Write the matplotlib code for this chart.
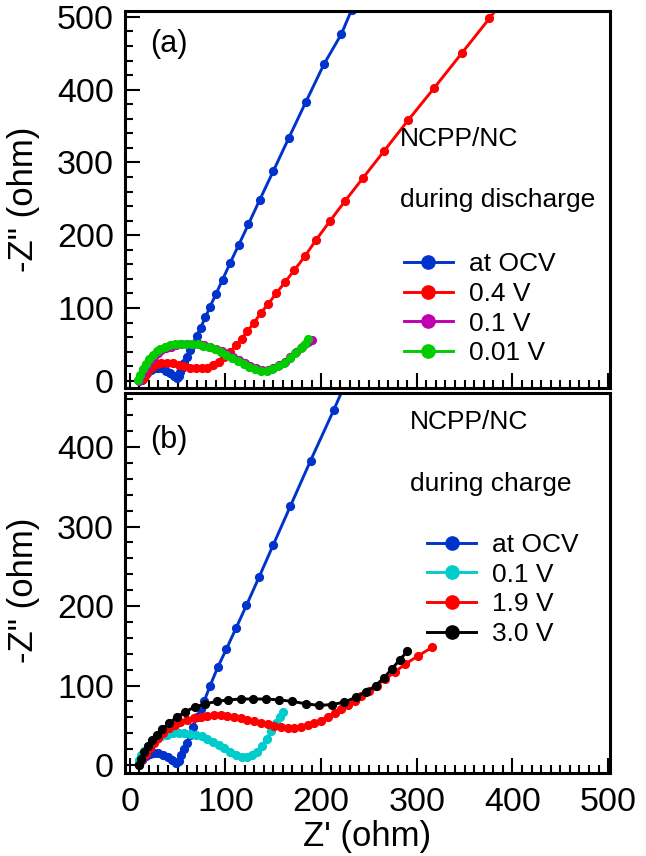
import numpy as np
import matplotlib
matplotlib.use("Agg")
import matplotlib.pyplot as plt
from matplotlib.ticker import MultipleLocator

plt.rcParams['font.family'] = ['Liberation Sans', 'DejaVu Sans']

# %% data, (Z', -Z'') in ohm
# (a) during discharge
a_ocv_x = [13, 15, 18, 22, 26, 30, 34, 38, 42, 46, 49, 51, 53, 55, 57, 60, 63, 66, 70, 74,
           79, 84, 90, 97, 105, 114, 124, 136, 150, 166, 184, 203, 221, 232]
a_ocv_y = [1, 6, 11, 15, 17, 18, 17, 14, 10, 6, 4, 7, 12, 18, 25, 33, 42, 51, 62, 73,
           87, 102, 119, 139, 162, 187, 215, 249, 288, 333, 383, 435, 476, 510]
a_04_x = [14, 16, 19, 23, 28, 33, 39, 45, 51, 57, 63, 69, 75, 81, 87, 93, 99, 105, 111, 117,
          123, 130, 137, 145, 153, 162, 172, 183, 195, 209, 225, 244, 266, 291, 318, 347, 376, 390]
a_04_y = [2, 7, 13, 19, 23, 25, 25, 24, 22, 20, 18, 17, 17, 18, 21, 26, 32, 40, 49, 58,
          68, 80, 93, 106, 120, 135, 152, 171, 194, 219, 247, 279, 316, 358, 402, 450, 498, 522]
a_01_x = [10, 12, 15, 18, 21, 25, 29, 33, 38, 43, 48, 54, 60, 66, 72, 78, 84, 90, 96, 102,
          108, 114, 120, 126, 132, 138, 144, 150, 156, 162, 168, 174, 180, 186, 190]
a_01_y = [0, 6, 13, 20, 27, 33, 38, 42, 45, 47, 49, 50, 51, 51, 50, 49, 47, 44, 41, 37,
          33, 28, 24, 20, 17, 15, 15, 17, 21, 26, 32, 39, 46, 53, 56]
a_001_x = [9, 11, 14, 17, 20, 24, 28, 32, 37, 42, 47, 53, 59, 65, 71, 77, 83, 89, 95, 101,
           107, 113, 119, 125, 131, 137, 143, 149, 155, 161, 167, 173, 179, 183, 186]
a_001_y = [1, 8, 16, 23, 30, 36, 41, 44, 47, 49, 50, 51, 51, 51, 50, 48, 46, 43, 39, 35,
           31, 27, 23, 19, 16, 14, 14, 16, 20, 25, 31, 38, 45, 51, 57]

# (b) during charge
b_ocv_x = [10, 13, 17, 21, 25, 30, 35, 40, 44, 48, 51, 54, 57, 60, 63, 66, 70, 74, 78, 84,
           92, 101, 111, 122, 135, 150, 168, 189, 213, 240]
b_ocv_y = [1, 6, 11, 14, 15, 15, 13, 10, 6, 3, 5, 12, 20, 28, 38, 48, 60, 71, 81, 100,
           123, 146, 172, 201, 236, 277, 326, 383, 446, 520]
b_01_x = [10, 12, 15, 19, 23, 28, 33, 39, 45, 51, 57, 63, 69, 75, 81, 87, 93, 99, 105, 111,
          117, 123, 128, 133, 138, 143, 148, 153, 157, 160]
b_01_y = [6, 12, 18, 24, 29, 33, 36, 38, 40, 40, 40, 39, 38, 36, 33, 29, 25, 21, 16, 12,
          10, 10, 12, 17, 24, 33, 43, 53, 61, 67]
b_19_x = [10, 13, 17, 21, 25, 30, 35, 41, 47, 53, 60, 67, 74, 81, 88, 95, 102, 109, 116, 123,
          130, 137, 144, 151, 158, 165, 172, 179, 186, 193, 200, 207, 214, 221, 228, 235,
          242, 250, 258, 267, 277, 288, 301, 316]
b_19_y = [0, 7, 14, 21, 28, 34, 40, 46, 50, 54, 57, 59, 61, 62, 63, 63, 62, 61, 59, 57,
          55, 53, 51, 49, 48, 47, 47, 48, 50, 53, 56, 61, 66, 71, 76, 81,
          87, 93, 100, 108, 117, 127, 137, 148]
b_30_x = [10, 12, 15, 19, 23, 28, 34, 41, 49, 58, 68, 79, 91, 103, 116, 129, 142, 156, 170, 184,
          198, 211, 224, 236, 247, 257, 266, 274, 282, 290]
b_30_y = [0, 8, 16, 24, 31, 38, 45, 53, 60, 67, 73, 77, 80, 82, 83, 83, 83, 82, 80, 77,
          75, 76, 79, 85, 92, 100, 110, 121, 132, 143]

labels_a = ['at OCV', '0.4 V', '0.1 V', '0.01 V']
labels_b = ['at OCV', '0.1 V', '1.9 V', '3.0 V']
blue, red, magenta, green, cyan = '#0033cc', '#ff0000', '#c000b0', '#00cc00', '#00cccc'


def style_axes(ax, ymax):
    ax.set_xlim(-5, 502)
    ax.set_ylim(-10, ymax)
    ax.xaxis.set_major_locator(MultipleLocator(100))
    ax.xaxis.set_minor_locator(MultipleLocator(10))
    ax.yaxis.set_major_locator(MultipleLocator(100))
    ax.yaxis.set_minor_locator(MultipleLocator(20))
    ax.tick_params(which='both', direction='in', top=False, right=False, width=1.5,
                   labelsize=24.5)
    ax.tick_params(which='major', length=11)
    ax.tick_params(which='minor', length=5.5)
    ax.tick_params(axis='x', pad=10)
    ax.tick_params(axis='y', pad=8)
    for s in ax.spines.values():
        s.set_linewidth(2.2)
    ax.set_ylabel('-Z" (ohm)', fontsize=25)
    ax.yaxis.set_label_coords(-0.175, 0.5)


def curva(ax, x, y, cor, rotulo):
    ax.plot(x, y, '-o', color=cor, lw=2.1, ms=5.6, mec=cor, label=rotulo)


fig = plt.figure(figsize=(6.46, 8.56), dpi=100)
ax1 = fig.add_axes([0.1935, 0.5467, 0.7508, 0.4404])
ax2 = fig.add_axes([0.1935, 0.0970, 0.7508, 0.4439])

# (a)
curva(ax1, a_ocv_x, a_ocv_y, blue, labels_a[0])
curva(ax1, a_04_x, a_04_y, red, labels_a[1])
curva(ax1, a_01_x, a_01_y, magenta, labels_a[2])
curva(ax1, a_001_x, a_001_y, green, labels_a[3])
style_axes(ax1, 508)
ax1.set_xticklabels([])
ax1.text(0.052, 0.912, '(a)', transform=ax1.transAxes, fontsize=22, va='center')
ax1.text(0.567, 0.66, 'NCPP/NC', transform=ax1.transAxes, fontsize=19, va='center')
ax1.text(0.567, 0.50, 'during discharge', transform=ax1.transAxes, fontsize=19, va='center')
ax1.legend(loc='upper left', bbox_to_anchor=(0.575, 0.361), frameon=False, fontsize=19,
           borderpad=0, borderaxespad=0, handlelength=1.85, handletextpad=0.6,
           labelspacing=0.22, markerscale=1.7)

# (b)
curva(ax2, b_ocv_x, b_ocv_y, blue, labels_b[0])
curva(ax2, b_01_x, b_01_y, cyan, labels_b[1])
curva(ax2, b_19_x, b_19_y, red, labels_b[2])
curva(ax2, b_30_x, b_30_y, 'black', labels_b[3])
style_axes(ax2, 468)
ax2.set_xlabel("Z' (ohm)", fontsize=25)
ax2.xaxis.set_label_coords(0.5, -0.125)
ax2.yaxis.set_label_coords(-0.175, 0.48)
ax2.text(0.052, 0.876, '(b)', transform=ax2.transAxes, fontsize=22, va='center')
ax2.text(0.588, 0.924, 'NCPP/NC', transform=ax2.transAxes, fontsize=19, va='center')
ax2.text(0.588, 0.76, 'during charge', transform=ax2.transAxes, fontsize=19, va='center')
ax2.legend(loc='upper left', bbox_to_anchor=(0.623, 0.632), frameon=False, fontsize=19,
           borderpad=0, borderaxespad=0, handlelength=1.85, handletextpad=0.6,
           labelspacing=0.22, markerscale=1.7)

fig.savefig('out.png', dpi=100)
